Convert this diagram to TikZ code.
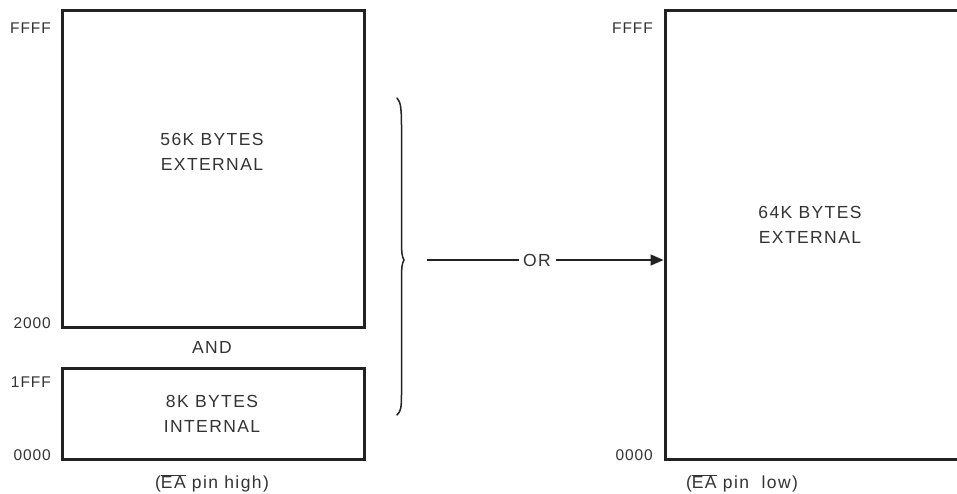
\documentclass[tikz,border=0pt]{standalone}
\usepackage{fontspec}
\setmainfont{Liberation Sans}[LetterSpace=6]
\newfontfamily\spacedfont{Liberation Sans}[LetterSpace=8]
\usetikzlibrary{arrows.meta}
\definecolor{ink}{HTML}{222222}
\definecolor{txt}{HTML}{333333}
\tikzset{
  membox/.style={draw=ink, line width=3pt, inner sep=0pt},
  boxtext/.style={text=txt, font=\spacedfont\fontsize{17.5}{25}\selectfont, align=center, inner sep=0pt},
  addr/.style={text=txt, font=\fontsize{15.5}{18}\selectfont, inner sep=0pt, anchor=east},
  conn/.style={draw=ink, line width=1.3pt},
}
\begin{document}
\begin{tikzpicture}[x=1pt,y=-1pt]
\useasboundingbox (0,0) rectangle (957,493);

% memory blocks (pin high)
\node[membox, minimum width=302pt, minimum height=317pt] (ext56) at (213,168.5) {};
\node[membox, minimum width=302pt, minimum height=91pt] (int8) at (213,414) {};
% memory block (pin low), right side runs off the page
\node[membox, minimum width=295pt, minimum height=449pt] (ext64) at (812.5,234.5) {};

% block contents
\node[boxtext] (t56) at (212,151.5) {56K BYTES\\EXTERNAL};
\node[boxtext] (t8)  at (212,413.5) {8K BYTES\\INTERNAL};
\node[boxtext] (t64) at (810,224.5) {64K BYTES\\EXTERNAL};

% address labels
\node[addr] (a1) at (51,28)  {FFFF};
\node[addr] (a2) at (51,323) {2000};
\node[addr] (a3) at (51,382) {1FFF};
\node[addr] (a4) at (51,455) {0000};
\node[addr] (a5) at (653,28)  {FFFF};
\node[addr] (a6) at (653,455) {0000};

% captions
\node[boxtext] (and) at (212,347) {AND};
\node[boxtext] (ph)  at (212,483) {($\overline{\hbox{EA}}$ pin high)};
\node[boxtext] (pl)  at (742,483) {($\overline{\hbox{EA}}$ pin\ \ low)};

% curly brace grouping both blocks
\coordinate (btop) at (397,98);
\coordinate (btip) at (404,260);
\coordinate (bbot) at (397,415);
\draw[ink, line width=1.5pt, line cap=round]
  (btop) .. controls (401,102) and (401.5,110) .. (401.5,128)
  -- (401.5,240) .. controls (401.5,252) and (402,257) .. (btip)
  .. controls (402,263) and (401.5,268) .. (401.5,280)
  -- (401.5,392) .. controls (401.5,408) and (401,411) .. (bbot);

% connector with OR
\coordinate (astart) at (427,260);
\node[boxtext] (or) at (537,260) {OR};
\draw[conn] (astart) -- ([xshift=-4pt]or.west);
\draw[conn, -{Triangle[length=13pt,width=11pt]}] ([xshift=5pt]or.east) -- (ext64.west |- or);
\end{tikzpicture}
\end{document}
